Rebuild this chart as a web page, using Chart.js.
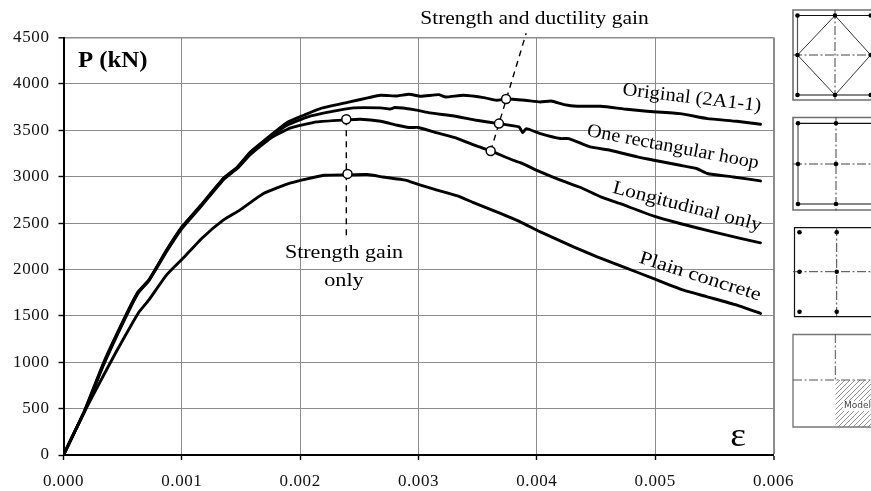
<!DOCTYPE html>
<html><head><meta charset="utf-8">
<style>html,body{margin:0;padding:0;background:#fff}#w{position:relative;width:871px;height:491px}</style>
<script src="https://cdn.jsdelivr.net/npm/chart.js@4"></script></head>
<body><div id="w"><canvas id="c" width="871" height="491"></canvas></div>
<script>
const originalX=[0,.00018,.00034,.00052,.00063,.00072,.00087,.001,.00116,.00135,.00147,.00158,.00175,.00189,.00203,.00217,.0024,.00258,.00268,.00282,.00292,.00302,.00317,.00323,.00338,.00355,.00366,.00374,.0039,.00403,.00412,.00423,.00434,.00454,.00476,.00493,.00521,.00544,.00569,.00589];
const originalY=[0,485,1000,1489,1759,1885,2208,2459,2692,2980,3105,3267,3446,3585,3662,3734,3800,3852,3877,3870,3888,3866,3884,3859,3877,3852,3823,3837,3823,3805,3815,3777,3759,3759,3726,3705,3680,3626,3597,3565];
const rectX=[0,.00018,.00034,.00052,.00063,.00072,.00087,.001,.00116,.00135,.00147,.00158,.00175,.00189,.00206,.00225,.00245,.00268,.00276,.0028,.00296,.0031,.0033,.00349,.00368,.00385,.00388,.00391,.00403,.0042,.00427,.00445,.00462,.00485,.00499,.00521,.00535,.00544,.00566,.00589];
const rectY=[0,480,985,1480,1750,1880,2200,2450,2685,2975,3100,3255,3430,3555,3643,3698,3741,3741,3730,3745,3723,3687,3654,3608,3572,3536,3475,3518,3465,3411,3411,3320,3285,3213,3177,3123,3088,3034,2997,2954];
const longX=[0,.00018,.00034,.00052,.00063,.00072,.00087,.001,.00116,.00135,.00147,.00158,.00175,.00192,.00214,.00239,.00251,.00268,.00282,.00292,.003,.00316,.00333,.00349,.00361,.0038,.00386,.00403,.0042,.00437,.00454,.0047,.00499,.00521,.00549,.00572,.00589];
const longY=[0,475,975,1470,1745,1875,2190,2440,2675,2965,3090,3240,3415,3525,3590,3612,3619,3597,3554,3530,3530,3471,3411,3331,3277,3177,3152,3051,2962,2883,2782,2711,2574,2495,2405,2334,2287];
const plainX=[0,.00017,.00034,.00044,.00063,.00072,.00087,.00101,.00117,.00135,.00149,.00169,.00192,.0022,.00239,.00257,.0027,.00289,.00299,.00313,.00333,.00347,.00366,.00386,.00403,.00431,.00451,.00473,.00502,.00524,.00544,.00569,.00589];
const plainY=[0,449,862,1100,1526,1669,1939,2120,2337,2531,2639,2818,2933,3015,3020,3023,2997,2962,2919,2865,2793,2717,2620,2513,2405,2243,2136,2028,1885,1777,1705,1615,1526];
const markerX=[.00239,.0024,.00374,.00368,.00361];
const markerY=[3619,3030,3837,3572,3277];
const gainLeaderX=[.00239,.00239];
const gainLeaderY=[3619,2337];
const ductLeaderX=[.00361,.00391];
const ductLeaderY=[3277,4545];
const xTicks=[0,.001,.002,.003,.004,.005,.006];
const yTicks=[0,500,1000,1500,2000,2500,3000,3500,4000,4500];
const labelText=["Original (2A1-1)","One rectangular hoop","Longitudinal only","Plain concrete","P (kN)","ε","Strength and ductility gain","Strength gain","only"];
const labelX=[.00531,.00515,.00527,.00538,.000416,.0057,.00398,.00237,.00237];
const labelY=[3846,3317,2674,1920,4243,196,4696,2176,1874];
const labelAngle=[6.8,10.8,14.5,17.5,0,0,0,0,0];
const labelStretch=[1.08,1.06,1.12,1.17,1.08,1.1,1.13,1.16,1.17];

const zip=(a,b)=>a.map((x,i)=>({x,y:b[i]}));
const SERIF='"Liberation Serif","Times New Roman",serif';
const curve=(d)=>({data:d,borderColor:'#000',borderWidth:2.9,pointRadius:0,tension:0.15,order:3,borderJoinStyle:'round',borderCapStyle:'round'});
const leader=(d)=>({data:d,borderColor:'#000',borderWidth:1.4,borderDash:[6,5],pointRadius:0,tension:0,order:2,clip:false});

const textPlugin={id:'texts',
 beforeDraw(ch){ch.ctx.letterSpacing='0.6px';},
 afterDatasetsDraw(ch){
  const g=ch.ctx,xs=ch.scales.x,ys=ch.scales.y;
  g.letterSpacing='0px';
  labelText.forEach((t,i)=>{
    g.save();
    g.translate(xs.getPixelForValue(labelX[i]),ys.getPixelForValue(labelY[i]));
    g.rotate(labelAngle[i]*Math.PI/180);
    g.scale(labelStretch[i],1);
    g.textAlign='center';g.textBaseline='middle';g.fillStyle='#000';
    g.font=t==='P (kN)'?'bold 23px '+SERIF:t==='ε'?'34px '+SERIF:'19px '+SERIF;
    g.fillText(t,0,0);
    g.restore();
  });
}};

function axes(g,x,top,bot,yc,color){
  g.save();g.strokeStyle=color;g.lineWidth=1;g.setLineDash([9,2.5,2,2.5]);
  g.beginPath();g.moveTo(x,top);g.lineTo(x,bot);g.moveTo(793,yc);g.lineTo(871,yc);g.stroke();g.restore();
}
function dots(g,xa,ya){g.fillStyle='#000';ya.forEach(y=>xa.forEach(x=>{g.beginPath();g.arc(x,y,2.3,0,7);g.fill();}));}
const insetPlugin={id:'insets',afterDraw(ch){
  const g=ch.ctx;g.save();
  // panel 1
  g.strokeStyle='#6f6f6f';g.lineWidth=1.6;g.beginPath();g.moveTo(872,10);g.lineTo(793,10);g.lineTo(793,100);g.lineTo(872,100);g.stroke();
  g.strokeStyle='#555';g.lineWidth=1.2;g.beginPath();g.moveTo(797.5,15.5);g.lineTo(797.5,95);g.stroke();
  g.strokeStyle='#111';g.beginPath();g.moveTo(797.5,15.5);g.lineTo(872,15.5);g.moveTo(797.5,95);g.lineTo(872,95);g.stroke();
  g.strokeStyle='#333';g.lineWidth=1;g.beginPath();g.moveTo(835,15.5);g.lineTo(870.7,55);g.lineTo(835,95);g.lineTo(797.5,55);g.closePath();g.stroke();
  axes(g,835,10,100,55,'#444');
  dots(g,[797.5,835,870.7],[15.5,95]);dots(g,[797.5,870.7],[55]);
  // panel 2
  g.strokeStyle='#6f6f6f';g.lineWidth=1.6;g.beginPath();g.moveTo(872,117.5);g.lineTo(793,117.5);g.lineTo(793,210);g.lineTo(872,210);g.stroke();
  g.strokeStyle='#555';g.lineWidth=1.2;g.beginPath();g.moveTo(798,123.3);g.lineTo(798,204);g.stroke();
  g.strokeStyle='#111';g.beginPath();g.moveTo(798,123.3);g.lineTo(872,123.3);g.moveTo(798,204);g.lineTo(872,204);g.stroke();
  axes(g,836,117,212,164,'#444');
  dots(g,[798,836],[123.3,164,204]);
  // panel 3
  g.strokeStyle='#111';g.lineWidth=1.2;g.beginPath();g.moveTo(872,227.7);g.lineTo(794.5,227.7);g.lineTo(794.5,316.7);g.lineTo(872,316.7);g.stroke();
  axes(g,836.7,227,317,271.7,'#444');
  dots(g,[799.5,836.7],[232.3,271.7,311.7]);
  // panel 4
  g.strokeStyle='#777';g.lineWidth=1.4;g.beginPath();g.moveTo(872,334.5);g.lineTo(793,334.5);g.lineTo(793,427);g.lineTo(872,427);g.stroke();
  g.save();g.beginPath();g.rect(835.5,380,36,47);g.clip();
  g.strokeStyle='#777';g.lineWidth=.8;g.beginPath();
  for(let k=835;k<930;k+=5){g.moveTo(k,380);g.lineTo(k-48,428);}
  g.stroke();g.restore();
  g.fillStyle='#fff';g.fillRect(843,401,28,10);
  g.fillStyle='#444';g.font='9px "DejaVu Sans",sans-serif';g.textBaseline='middle';g.textAlign='left';g.fillText('Model',844,406);
  axes(g,835.3,334,380,380,'#555');
  g.restore();
}};

new Chart(document.getElementById('c'),{
  type:'line',
  data:{datasets:[
    curve(zip(originalX,originalY)),curve(zip(rectX,rectY)),curve(zip(longX,longY)),curve(zip(plainX,plainY)),
    leader(zip(gainLeaderX,gainLeaderY)),leader(zip(ductLeaderX,ductLeaderY)),
    {data:zip(markerX,markerY),showLine:false,pointRadius:4.5,pointBackgroundColor:'#fff',pointBorderColor:'#000',pointBorderWidth:1.5,order:1,clip:false}
  ]},
  plugins:[textPlugin,insetPlugin],
  options:{
    responsive:false,animation:false,devicePixelRatio:1,
    layout:{padding:{left:0,right:97.5,top:37.5,bottom:0}},
    plugins:{legend:{display:false},tooltip:{enabled:false},title:{display:false}},
    scales:{
      x:{type:'linear',min:0,max:.006,
        afterBuildTicks:s=>{s.ticks=xTicks.map(v=>({value:v}));},
        afterFit:s=>{s.height=36;},
        grid:{color:'#8c8c8c',lineWidth:c=>c.index===xTicks.length-1?2:1,tickColor:'#000',tickWidth:1.4,tickLength:5},
        border:{display:true,color:'#000',width:2},
        ticks:{font:{family:SERIF,size:17},color:'#111',maxRotation:0,autoSkip:false,padding:11,callback:v=>Number(v).toFixed(3)}},
      y:{min:0,max:4500,
        afterBuildTicks:s=>{s.ticks=yTicks.map(v=>({value:v}));},
        afterFit:s=>{s.width=63.5;},
        grid:{color:'#8c8c8c',lineWidth:c=>c.index===yTicks.length-1?1.6:1,tickColor:'#000',tickWidth:1.4,tickLength:5},
        border:{display:true,color:'#000',width:2},
        ticks:{font:{family:SERIF,size:17},color:'#111',autoSkip:false,padding:9,callback:v=>String(v)}}
    }
  }
});
</script></body></html>
